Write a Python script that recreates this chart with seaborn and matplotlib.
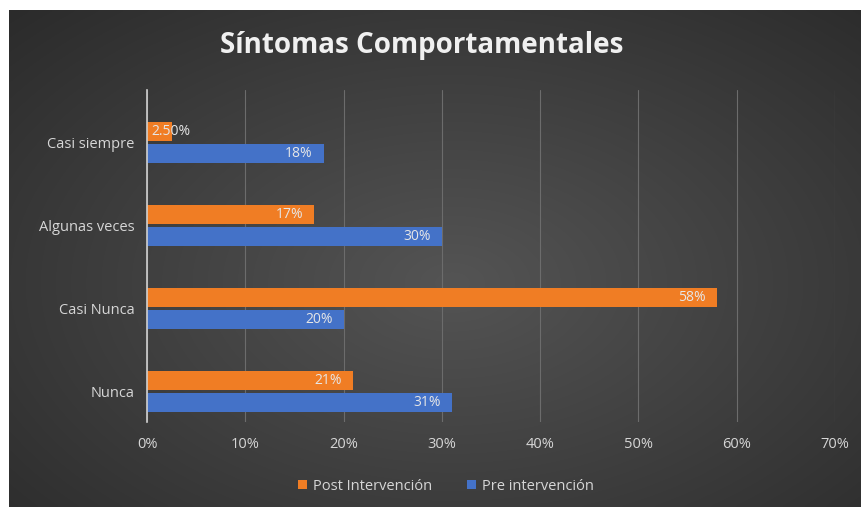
import numpy as np
import pandas as pd
import matplotlib
matplotlib.use("Agg")
import matplotlib.pyplot as plt
import seaborn as sns
from matplotlib.patches import Patch

categories = ["Casi siempre", "Algunas veces", "Casi Nunca", "Nunca"]
series = ["Post Intervención", "Pre intervención"]
post_values = [0.025, 0.17, 0.58, 0.21]
pre_values = [0.18, 0.30, 0.20, 0.31]
post_labels = ["2.50%", "17%", "58%", "21%"]
pre_labels = ["18%", "30%", "20%", "31%"]
x_ticks = [0, 0.1, 0.2, 0.3, 0.4, 0.5, 0.6, 0.7]
x_tick_labels = ["0%", "10%", "20%", "30%", "40%", "50%", "60%", "70%"]
title = "Síntomas Comportamentales"

colors = {"Post Intervención": "#F07D24", "Pre intervención": "#4472C8"}

df = pd.DataFrame({
    "categoria": categories * 2,
    "serie": [series[0]] * 4 + [series[1]] * 4,
    "valor": post_values + pre_values,
})

sns.set_theme(style="white")
plt.rcParams["font.family"] = ["Open Sans", "DejaVu Sans"]

W, H = 862, 507
fig = plt.figure(figsize=(W / 100, H / 100), dpi=100, facecolor="white")

# background gradient
bg = fig.add_axes([9 / W, 0, 1 - 9 / W, 1 - 10 / H])
yy, xx = np.mgrid[0:1:200j, 0:1:340j]
r = np.sqrt(((xx - 0.52) / 0.75) ** 2 + ((yy - 0.55) / 0.8) ** 2)
g = np.clip(1 - r, 0, 1)
lo, hi = 0.165, 0.33
val = lo + (hi - lo) * g
img = np.dstack([val, val, val])
bg.imshow(img, aspect="auto", extent=[0, 1, 0, 1], origin="upper", interpolation="bicubic")
bg.set_axis_off()

ax = fig.add_axes([147 / W, 1 - 422 / H, (835 - 147) / W, (422 - 90) / H])
ax.patch.set_alpha(0)

sns.barplot(data=df, y="categoria", x="valor", hue="serie", order=categories,
            hue_order=series, palette=colors, orient="h", width=0.54, gap=0.15,
            ax=ax, legend=False, saturation=1, linewidth=0)

ax.set_xlim(0, 0.7)
ax.set_ylim(3.37, -0.63)
ax.set_xticks(x_ticks)
ax.set_xticklabels(x_tick_labels)
ax.set_xlabel("")
ax.set_ylabel("")
for s in ["top", "right", "bottom"]:
    ax.spines[s].set_visible(False)
ax.spines["left"].set_color("#d0d0d0")
ax.spines["left"].set_linewidth(1.2)
ax.grid(axis="x", color="#6c6c6c", linewidth=0.8)
ax.set_axisbelow(True)
ax.tick_params(axis="both", length=0, colors="#d6d6d6", labelsize=10.5)
ax.tick_params(axis="x", pad=11)
ax.tick_params(axis="y", pad=9)

containers = ax.containers
for cont, labels in zip(containers, [post_labels, pre_labels]):
    for bar, lab in zip(cont, labels):
        w = bar.get_width()
        yc = bar.get_y() + bar.get_height() / 2
        if w < 0.05:
            ax.annotate(lab, (0, yc), xytext=(3, 0), textcoords="offset points",
                        ha="left", va="center", color="#e6e6e6", fontsize=10)
        else:
            ax.annotate(lab, (w, yc), xytext=(-8, 0), textcoords="offset points",
                        ha="right", va="center", color="#e6e6e6", fontsize=10)

fig.text(422 / W, 1 - 45 / H, title, ha="center", va="center", color="#f0f0f0",
         fontsize=20, fontweight="bold")

handles = [Patch(facecolor=colors[s], edgecolor="none", label=s) for s in series]
fig.legend(handles=handles, loc="center", bbox_to_anchor=(446 / W, 1 - 486 / H), ncol=2,
           frameon=False, fontsize=10.5, labelcolor="#d6d6d6", handlelength=0.6,
           handleheight=0.6, handletextpad=0.4, columnspacing=2.4)

fig.savefig("out.png", dpi=100, facecolor="white")
